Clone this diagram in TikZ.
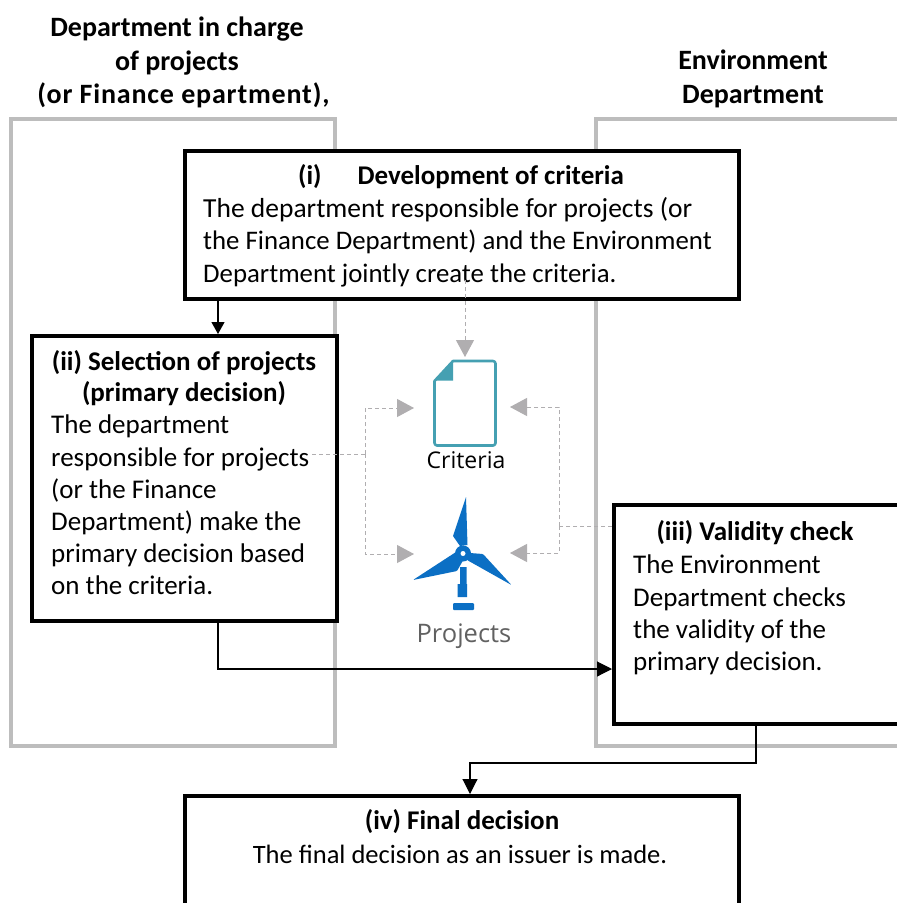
\documentclass[tikz,border=0pt]{standalone}
\usepackage{fontspec}
\setmainfont{Carlito}
\newfontfamily\iconfont{Open Sans}
\usetikzlibrary{arrows.meta,calc}
\tikzset{
  lane/.style={draw=laneGray,line width=4pt,fill=white,inner sep=0pt},
  stagebox/.style={draw=black,line width=4pt,fill=white,inner sep=0pt},
  head/.style={font=\fontsize{28}{33.5}\selectfont\bfseries,align=center,inner sep=0pt},
  title/.style={font=\fontsize{27}{31.5}\selectfont\bfseries,align=center,inner sep=0pt},
  body/.style={font=\fontsize{27}{32.2}\selectfont,align=left,anchor=north west,inner sep=0pt},
  flow/.style={draw=black,line width=1.1pt,-{Triangle[length=15pt,width=15pt]}},
  refer/.style={draw=arrowGray,line width=1pt,dash pattern=on 4pt off 3pt},
  referarrow/.style={refer,-{Triangle[length=17pt,width=18pt,color=arrowGray]}},
  iconlabel/.style={font=\iconfont\fontsize{23}{26}\selectfont,inner sep=0pt},
}
\definecolor{laneGray}{HTML}{BDBDBD}
\definecolor{arrowGray}{HTML}{B0AEB0}
\definecolor{docTeal}{HTML}{45A0B2}
\definecolor{turbineBlue}{HTML}{0B6FC4}
\begin{document}
\begin{tikzpicture}[x=1pt,y=-1pt]
\clip (0,0) rectangle (897,903);
\fill[white] (0,0) rectangle (897,903);
% lanes
\node[lane,minimum width=324pt,minimum height=627pt] (laneL) at (173,432.5) {};
\node[lane,minimum width=340pt,minimum height=627pt] (laneR) at (766,432.5) {};
% headers
\node[head] (headL) at (177,62.5) {Department in charge\\of projects\\\hspace*{13pt}{\addfontfeatures{LetterSpace=3}(or Finance epartment),}};
\node[head] (headR) at (753,79) {Environment\\Department};
% stage boxes
\node[stagebox,minimum width=554pt,minimum height=148pt] (crit) at (462,225) {};
\node[stagebox,minimum width=305pt,minimum height=285pt] (sel) at (184.5,478.5) {};
\node[stagebox,minimum width=300pt,minimum height=219pt] (val) at (764,614.5) {};
\node[stagebox,minimum width=554pt,minimum height=160pt] (fin) at (462,876) {};
% texts
\node[title] (critT) at (461,177) {(i)\hspace{36pt}Development of criteria};
\node[body,font=\fontsize{26.8}{32.4}\selectfont] (critB) at (203,197) {{\fontsize{27.5}{32.4}\selectfont The department responsible for projects (or}\\the Finance Department) and the Environment\\Department jointly create the criteria.};
\node[title] (selT) at (184,378) {(ii) Selection of projects\\(primary decision)};
\node[body] (selB) at (51,415) {The department\\responsible for projects\\(or the Finance\\Department) make the\\primary decision based\\on the criteria.};
\node[title] (valT) at (755,533) {(iii) Validity check};
\node[body] (valB) at (633,555) {The Environment\\Department checks\\the validity of the\\primary decision.};
\node[title] (finT) at (462,822) {(iv) Final decision};
\node[font=\fontsize{26.5}{32}\selectfont,inner sep=0pt] (finB) at (460,854) {The final decision as an issuer is made.};
% document icon
\draw[docTeal,line width=2.6pt,line join=round,fill=white] (434.5,381) -- (453,361) -- (493,361) to[out=0,in=90] (495.5,363.5) -- (495.5,443) to[out=-90,in=0] (493,445.5) -- (437,445.5) to[out=180,in=-90] (434.5,443) -- cycle;
\fill[docTeal] (434.5,380.5) -- (453,361) -- (453,380.5) -- cycle;
\node[iconlabel] (critL) at (466,460) {Criteria};
% turbine icon
\fill[turbineBlue,line join=round] (466,497) -- (467.5,545) -- (460,546) -- (453,536) -- cycle;
\fill[turbineBlue,rounded corners=1pt] (413,580) -- (457,571) -- (465,557) -- (456,552) -- cycle;
\fill[turbineBlue,rounded corners=1pt] (511.5,585) -- (483,554) -- (470,553) -- (467,560) -- cycle;
\fill[turbineBlue] (463,553.5) circle (8pt);
\fill[white] (463,553.5) circle (2.5pt);
\fill[turbineBlue] (460,567) rectangle (466.5,584) (457.5,584) rectangle (467,597);
\fill[turbineBlue,rounded corners=1pt] (453,603) rectangle (474,610);
\node[iconlabel,text=black!62,font=\iconfont\fontsize{25.5}{28}\selectfont] (projL) at (464,636) {Projects};
% reference connectors (dashed)
\coordinate (docTop) at (465,357);
\coordinate (critDrop) at (465,280);
\draw[referarrow] (critDrop) -- (docTop);
\coordinate (lM) at (365,454);
\coordinate (lT) at (365,408);
\coordinate (lB) at (365,554);
\coordinate (lS) at (312,454);
\coordinate (lTT) at (414,408);
\coordinate (lBT) at (414,554);
\draw[refer] (lS) -- (lM);
\draw[referarrow] (lM) -- (lT) -- (lTT);
\draw[referarrow] (lM) -- (lB) -- (lBT);
\coordinate (rM) at (559,526);
\coordinate (rT) at (559,407);
\coordinate (rB) at (559,553);
\coordinate (rTT) at (510,407);
\coordinate (rBT) at (510,553);
\draw[refer] (val.west |- rM) -- (rM);
\draw[referarrow] (rM) -- (rT) -- (rTT);
\draw[referarrow] (rM) -- (rB) -- (rBT);
% flow connectors
\coordinate (flowA) at (218,0);
\draw[flow,-{Triangle[length=12pt,width=13pt]}] (crit.south -| flowA) -- (sel.north -| flowA);
\coordinate (bend2) at (218,669);
\draw[flow] (sel.south -| bend2) -- (bend2) -- (val.west |- bend2);
\coordinate (bend3a) at (756,763);
\coordinate (bend3b) at (470,763);
\draw[flow] (val.south -| bend3a) -- (bend3a) -- (bend3b) -- (fin.north -| bend3b);
\end{tikzpicture}
\end{document}
